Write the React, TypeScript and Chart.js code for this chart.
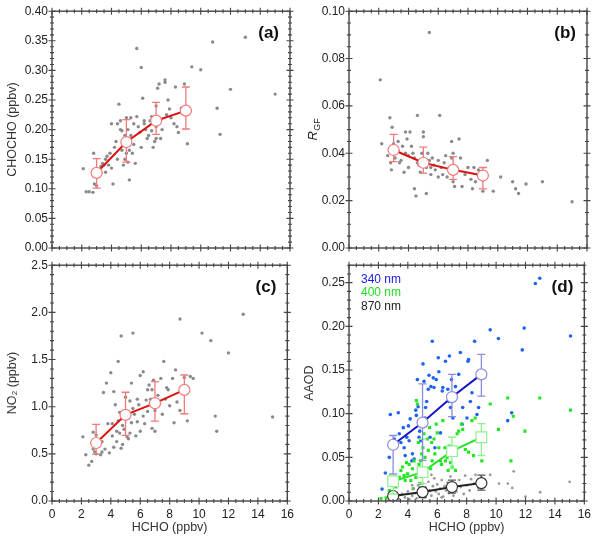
import React, { useEffect, useRef } from 'react';
import { Chart, registerables } from 'chart.js';

Chart.register(...registerables);

const FONT = "'Liberation Sans', Arial, sans-serif";

type Pt = [number, number];

// HCHO bin centres for the averaged points
const binHcho = [3, 5, 7, 9];

// (a) CHOCHO vs HCHO
const chochoPts: Pt[] = [
  [2.1, 0.134], [2.3, 0.095], [2.5, 0.095], [2.75, 0.094], [2.75, 0.128], [2.8, 0.16], [2.85, 0.108],
  [3.0, 0.105], [3.1, 0.13], [3.3, 0.138], [3.3, 0.127], [3.4, 0.143], [3.5, 0.14], [3.6, 0.15],
  [3.6, 0.128], [3.7, 0.155], [3.8, 0.14], [3.9, 0.16], [4.0, 0.21], [4.0, 0.135], [4.1, 0.108],
  [4.2, 0.17], [4.3, 0.18], [4.4, 0.21], [4.4, 0.15], [4.5, 0.243], [4.6, 0.2], [4.6, 0.215],
  [4.7, 0.165], [4.7, 0.198], [4.8, 0.14], [4.9, 0.19], [4.9, 0.15], [5.0, 0.22], [5.0, 0.16],
  [5.1, 0.145], [5.1, 0.2], [5.2, 0.165], [5.2, 0.115], [5.3, 0.22], [5.3, 0.19], [5.4, 0.16],
  [5.5, 0.175], [5.5, 0.21], [5.6, 0.143], [5.7, 0.222], [5.7, 0.337], [5.8, 0.205], [5.9, 0.195],
  [6.0, 0.305], [6.0, 0.17], [6.1, 0.253], [6.2, 0.21], [6.2, 0.215], [6.3, 0.2], [6.4, 0.185],
  [6.5, 0.19], [6.6, 0.215], [6.7, 0.198], [6.7, 0.222], [6.8, 0.17], [6.9, 0.18], [7.0, 0.205],
  [7.0, 0.24], [7.0, 0.185], [7.1, 0.27], [7.2, 0.277], [7.3, 0.185], [7.3, 0.215], [7.4, 0.2],
  [7.6, 0.28], [7.6, 0.284], [7.7, 0.225], [7.8, 0.25], [7.9, 0.235], [8.0, 0.22], [8.2, 0.21],
  [8.3, 0.272], [8.4, 0.205], [8.5, 0.195], [8.7, 0.236], [8.9, 0.277], [9.1, 0.176], [9.3, 0.232],
  [9.4, 0.306], [10.0, 0.301], [10.8, 0.348], [11.1, 0.236], [11.3, 0.192], [12.0, 0.268],
  [13.0, 0.356], [15.0, 0.26],
];
const chochoMean = [0.127, 0.179, 0.215, 0.232];
const chochoLow = [0.101, 0.145, 0.192, 0.201];
const chochoHigh = [0.151, 0.217, 0.246, 0.272];

// (b) R_GF vs HCHO
const rgfPts: Pt[] = [
  [2.1, 0.071], [5.4, 0.091], [2.2, 0.044], [2.6, 0.039], [2.75, 0.055], [2.8, 0.036], [2.85, 0.033],
  [2.9, 0.051], [3.0, 0.044], [3.1, 0.038], [3.3, 0.045], [3.3, 0.041], [3.4, 0.036], [3.5, 0.037],
  [3.6, 0.043], [3.7, 0.032], [3.8, 0.049], [3.8, 0.04], [3.9, 0.046], [4.0, 0.039], [4.0, 0.034],
  [4.1, 0.049], [4.2, 0.043], [4.3, 0.04], [4.4, 0.038], [4.4, 0.025], [4.5, 0.022], [4.6, 0.056],
  [4.6, 0.036], [4.7, 0.035], [4.8, 0.032], [4.9, 0.04], [5.0, 0.049], [5.0, 0.047], [5.2, 0.023],
  [5.2, 0.034], [5.3, 0.04], [5.4, 0.037], [5.5, 0.031], [5.5, 0.034], [5.6, 0.038], [5.7, 0.035],
  [5.8, 0.033], [6.0, 0.037], [6.0, 0.03], [6.1, 0.056], [6.2, 0.034], [6.3, 0.031], [6.4, 0.036],
  [6.5, 0.039], [6.6, 0.03], [6.7, 0.033], [6.8, 0.034], [6.9, 0.038], [6.9, 0.045], [7.0, 0.04],
  [7.0, 0.028], [7.1, 0.026], [7.2, 0.032], [7.4, 0.046], [7.5, 0.038], [7.6, 0.026], [7.8, 0.031],
  [8.0, 0.034], [8.2, 0.029], [8.3, 0.025], [8.4, 0.034], [8.5, 0.028], [8.7, 0.033], [8.9, 0.029],
  [9.0, 0.024], [9.3, 0.037], [9.7, 0.024], [10.2, 0.03], [11.0, 0.028], [11.2, 0.025], [11.4, 0.023],
  [11.9, 0.027], [13.0, 0.028], [15.0, 0.0195],
];
const rgfMean = [0.0414, 0.036, 0.033, 0.0306];
const rgfLow = [0.0365, 0.0316, 0.029, 0.025];
const rgfHigh = [0.048, 0.0426, 0.0386, 0.034];

// (c) NO2 vs HCHO
const no2Pts: Pt[] = [
  [2.1, 0.68], [2.3, 0.49], [2.5, 0.38], [2.7, 0.42], [2.8, 0.55], [2.8, 0.73], [2.9, 0.52],
  [3.0, 0.7], [3.0, 0.5], [3.2, 0.62], [3.3, 0.49], [3.4, 0.52], [3.4, 0.63], [3.5, 1.15],
  [3.6, 0.55], [3.7, 1.25], [3.8, 0.82], [3.9, 0.51], [4.0, 1.36], [4.1, 0.69], [4.1, 0.82],
  [4.2, 1.16], [4.2, 0.57], [4.3, 1.02], [4.4, 0.63], [4.4, 0.74], [4.5, 1.48], [4.5, 0.85],
  [4.6, 0.72], [4.6, 0.94], [4.7, 1.75], [4.7, 0.56], [4.8, 0.8], [4.8, 0.6], [4.9, 0.76],
  [5.0, 1.1], [5.0, 0.95], [5.1, 0.68], [5.2, 0.88], [5.2, 0.66], [5.3, 1.06], [5.3, 0.72],
  [5.4, 1.25], [5.4, 0.83], [5.5, 1.78], [5.5, 0.98], [5.6, 0.92], [5.7, 0.69], [5.8, 0.84],
  [5.8, 1.08], [5.9, 1.02], [6.0, 1.33], [6.0, 0.74], [6.2, 1.37], [6.2, 0.9], [6.3, 0.82],
  [6.4, 1.07], [6.5, 0.95], [6.5, 1.18], [6.6, 1.23], [6.7, 1.08], [6.8, 1.18], [6.8, 0.77],
  [6.9, 1.28], [7.0, 0.74], [7.0, 0.96], [7.2, 1.12], [7.3, 1.03], [7.4, 1.3], [7.5, 0.92],
  [7.6, 1.48], [7.7, 1.08], [7.8, 1.2], [7.9, 1.18], [8.0, 1.01], [8.2, 1.3], [8.3, 0.83],
  [8.4, 1.39], [8.5, 1.05], [8.7, 1.93], [8.7, 0.96], [9.0, 1.31], [9.2, 0.85], [9.4, 1.32],
  [9.6, 1.3], [10.2, 1.78], [10.8, 1.7], [11.1, 0.9], [11.2, 0.74], [12.0, 1.57], [13.0, 1.98],
  [15.0, 0.89],
];
const no2Mean = [0.615, 0.914, 1.037, 1.178];
const no2Low = [0.496, 0.696, 0.847, 0.925];
const no2High = [0.812, 1.153, 1.266, 1.336];

// (d) AAOD vs HCHO at three wavelengths
const aaod340Pts: Pt[] = [
  [2.25, 0.0136], [2.47, 0.032], [2.74, 0.05], [2.81, 0.099], [3.35, 0.101], [3.08, 0.071],
  [3.42, 0.077], [3.53, 0.067], [3.69, 0.084], [3.75, 0.061], [3.82, 0.052], [3.93, 0.073],
  [4.04, 0.086], [4.09, 0.069], [4.16, 0.094], [4.27, 0.046], [4.31, 0.054], [4.43, 0.048],
  [4.54, 0.104], [4.58, 0.098], [4.65, 0.139], [4.7, 0.108], [4.76, 0.073], [4.81, 0.08],
  [4.88, 0.069], [4.99, 0.088], [5.03, 0.157], [5.1, 0.137], [5.17, 0.095], [5.21, 0.107],
  [5.28, 0.114], [5.39, 0.128], [5.44, 0.144], [5.51, 0.073], [5.57, 0.131], [5.66, 0.183],
  [5.73, 0.141], [5.78, 0.13], [5.84, 0.061], [5.93, 0.139], [6.07, 0.164], [6.11, 0.148],
  [6.22, 0.078], [6.34, 0.126], [6.38, 0.13], [6.56, 0.16], [6.72, 0.128], [6.79, 0.114],
  [6.83, 0.166], [6.9, 0.107], [6.97, 0.139], [7.06, 0.095], [7.24, 0.131], [7.46, 0.145],
  [7.57, 0.17], [7.69, 0.088], [7.73, 0.107], [8.02, 0.095], [8.09, 0.16], [8.13, 0.162],
  [8.25, 0.114], [8.36, 0.124], [8.54, 0.183], [8.7, 0.099], [8.81, 0.107], [9.6, 0.196],
  [10.16, 0.186], [10.79, 0.092], [11.06, 0.101], [11.78, 0.173], [11.91, 0.198], [12.67, 0.249],
  [12.97, 0.255], [15.06, 0.189],
];
const aaod400Pts: Pt[] = [
  [2.18, 0.0027], [2.52, 0.0038], [2.74, 0.012], [3.01, 0.0235], [3.19, 0.016], [3.42, 0.027],
  [3.53, 0.035], [3.64, 0.039], [3.75, 0.029], [3.82, 0.0235], [3.91, 0.044], [3.98, 0.031],
  [4.09, 0.042], [4.2, 0.0235], [4.31, 0.037], [4.36, 0.014], [4.43, 0.046], [4.54, 0.027],
  [4.58, 0.115], [4.65, 0.111], [4.72, 0.067], [4.76, 0.042], [4.81, 0.02], [4.88, 0.046],
  [4.94, 0.054], [5.03, 0.061], [5.1, 0.077], [5.17, 0.05], [5.21, 0.031], [5.33, 0.071],
  [5.39, 0.058], [5.48, 0.084], [5.55, 0.037], [5.62, 0.067], [5.66, 0.046], [5.78, 0.071],
  [5.84, 0.054], [5.93, 0.088], [6.0, 0.078], [6.11, 0.061], [6.22, 0.046], [6.29, 0.042],
  [6.38, 0.092], [6.52, 0.061], [6.56, 0.046], [6.67, 0.05], [6.74, 0.035], [6.83, 0.063],
  [6.9, 0.044], [7.01, 0.039], [7.12, 0.061], [7.24, 0.035], [7.35, 0.077], [7.46, 0.08],
  [7.64, 0.088], [7.73, 0.082], [7.91, 0.059], [8.13, 0.056], [8.36, 0.092], [8.47, 0.052],
  [8.58, 0.095], [9.03, 0.046], [9.6, 0.111], [10.16, 0.082], [10.79, 0.118], [11.01, 0.046],
  [11.17, 0.097], [11.96, 0.08], [12.97, 0.118], [15.06, 0.104],
];
const aaod870Pts: Pt[] = [
  [2.6, 0.0], [2.9, 0.003], [3.2, 0.006], [3.4, 0.002], [3.6, 0.008], [3.8, 0.004], [4.0, 0.011],
  [4.1, 0.002], [4.3, 0.006], [4.3, 0.018], [4.4, 0.014], [4.5, 0.009], [4.6, 0.003], [4.7, 0.018],
  [4.8, 0.007], [4.9, 0.012], [5.0, 0.02], [5.1, 0.004], [5.2, 0.015], [5.3, 0.009], [5.4, 0.022],
  [5.5, 0.012], [5.6, 0.006], [5.6, 0.03], [5.7, 0.017], [5.8, 0.026], [5.9, 0.011], [6.0, 0.019],
  [6.1, 0.008], [6.2, 0.014], [6.3, 0.024], [6.3, 0.004], [6.4, 0.005], [6.5, 0.017], [6.6, 0.012],
  [6.7, 0.021], [6.8, 0.009], [6.9, 0.028], [7.0, 0.014], [7.1, 0.006], [7.2, 0.019], [7.3, 0.011],
  [7.5, 0.024], [7.6, 0.016], [7.8, 0.008], [7.9, 0.029], [8.0, 0.018], [8.2, 0.012], [8.3, 0.025],
  [8.5, 0.02], [8.6, 0.03], [8.8, 0.015], [9.0, 0.027], [9.2, 0.022], [9.6, 0.03], [10.2, 0.02],
  [10.8, 0.02], [11.1, 0.015], [11.2, 0.034], [12.0, 0.005], [13.0, 0.01], [15.0, 0.022],
];
const aaod340Mean = [0.0644, 0.0898, 0.119, 0.145];
const aaod340Low = [0.031, 0.0466, 0.0966, 0.12];
const aaod340High = [0.075, 0.134, 0.145, 0.168];
const aaod400Mean = [0.0227, 0.033, 0.057, 0.073];
const aaod400Low = [0.008, 0.02, 0.037, 0.052];
const aaod400High = [0.03, 0.071, 0.073, 0.0886];
const aaod870Mean = [0.0057, 0.0102, 0.016, 0.0205];
const aaod870Low = [0.002, 0.004, 0.009, 0.0125];
const aaod870High = [0.009, 0.016, 0.024, 0.0296];

const wavelengthLabels = ['340 nm', '400 nm', '870 nm'];

const toXY = (pts: Pt[]) => pts.map(([x, y]) => ({ x, y }));
const binXY = (vals: number[]) => vals.map((y, i) => ({ x: binHcho[i], y }));

const scatterSet = (pts: Pt[], color: string, style = 'circle', r = 1.7) => ({
  type: 'scatter' as const,
  data: toXY(pts),
  pointStyle: style,
  pointRadius: r,
  pointBackgroundColor: color,
  pointBorderWidth: 0,
  order: 5,
});

const meanSet = (
  vals: number[], low: number[], high: number[],
  line: string, marker: string, errColor: string, style = 'circle', r = 5.5,
) => ({
  type: 'line' as const,
  data: binXY(vals),
  borderColor: line,
  borderWidth: 2,
  pointStyle: style,
  pointRadius: r,
  pointBackgroundColor: '#ffffff',
  pointBorderColor: marker,
  pointBorderWidth: 1.2,
  errLow: low,
  errHigh: high,
  errColor,
  order: 1,
});

// draws error bars just before each averaged series
const errorBars = {
  id: 'errorBars',
  beforeDatasetDraw(chart: any, args: any) {
    const ds = chart.data.datasets[args.index];
    if (!ds.errLow) return;
    const { ctx, scales } = chart;
    ctx.save();
    ctx.strokeStyle = ds.errColor;
    ctx.lineWidth = 1.3;
    ds.data.forEach((p: any, i: number) => {
      const x = scales.x.getPixelForValue(p.x);
      const y1 = scales.y.getPixelForValue(ds.errLow[i]);
      const y2 = scales.y.getPixelForValue(ds.errHigh[i]);
      ctx.beginPath();
      ctx.moveTo(x, y1); ctx.lineTo(x, y2);
      ctx.moveTo(x - 4, y1); ctx.lineTo(x + 4, y1);
      ctx.moveTo(x - 4, y2); ctx.lineTo(x + 4, y2);
      ctx.stroke();
    });
    ctx.restore();
  },
};

// box frame with major and minor ticks crossing every side, plus panel texts
const frame = {
  id: 'frame',
  afterDraw(chart: any, _args: any, opts: any) {
    const { ctx, chartArea: a, scales } = chart;
    const { x: xs, y: ys } = scales;
    ctx.save();
    ctx.strokeStyle = '#444';
    ctx.lineWidth = 1.4;
    ctx.strokeRect(a.left, a.top, a.right - a.left, a.bottom - a.top);
    ctx.lineWidth = 1.1;
    ctx.beginPath();
    const xMinor = 0.5, xMajor = 2;
    for (let v = xs.min; v <= xs.max + 1e-9; v += xMinor) {
      const px = xs.getPixelForValue(v);
      const len = Math.abs(v / xMajor - Math.round(v / xMajor)) < 1e-6 ? 3.5 : 2;
      for (const yy of [a.top, a.bottom]) { ctx.moveTo(px, yy - len); ctx.lineTo(px, yy + len); }
    }
    const n = Math.round((ys.max - ys.min) / opts.yMinor);
    for (let k = 0; k <= n; k++) {
      const v = ys.min + k * opts.yMinor;
      const py = ys.getPixelForValue(v);
      const r = v / opts.yMajor;
      const len = Math.abs(r - Math.round(r)) < 1e-6 ? 3.5 : 2;
      for (const xx of [a.left, a.right]) { ctx.moveTo(xx - len, py); ctx.lineTo(xx + len, py); }
    }
    ctx.stroke();

    ctx.fillStyle = '#111';
    ctx.font = `bold 17px ${FONT}`;
    ctx.textAlign = 'right';
    ctx.textBaseline = 'middle';
    ctx.fillText(opts.label, a.right - 11, a.top + 22);

    if (opts.legend) {
      ctx.font = `12px ${FONT}`;
      ctx.textAlign = 'left';
      opts.legend.forEach((t: string, i: number) => {
        ctx.fillStyle = opts.legendColors[i];
        ctx.fillText(t, a.left + 12, a.top + 14 + i * 13.5);
      });
    }

    if (opts.rgfTitle) {
      const cy = (a.top + a.bottom) / 2;
      ctx.translate(16, cy);
      ctx.rotate(-Math.PI / 2);
      ctx.fillStyle = '#222';
      ctx.textAlign = 'left';
      ctx.textBaseline = 'alphabetic';
      ctx.font = `italic 13px ${FONT}`;
      const wR = ctx.measureText('R').width;
      ctx.font = `9px ${FONT}`;
      const wS = ctx.measureText('GF').width;
      const x0 = -(wR + wS) / 2;
      ctx.font = `italic 13px ${FONT}`;
      ctx.fillText('R', x0, 4);
      ctx.font = `9px ${FONT}`;
      ctx.fillText('GF', x0 + wR + 0.5, 7);
    }
    ctx.restore();
  },
};

interface PanelProps {
  left: number;
  top: number;
  height: number;
  datasets: any[];
  yMax: number;
  yStep: number;
  yMinor: number;
  yDigits: number;
  yTitle?: string;
  showX: boolean;
  label: string;
  padTop: number;
  legend?: string[];
  legendColors?: string[];
  rgfTitle?: boolean;
}

const Panel: React.FC<PanelProps> = (p) => {
  const canvasRef = useRef<HTMLCanvasElement | null>(null);

  useEffect(() => {
    if (!canvasRef.current) return;
    const ctx = canvasRef.current.getContext('2d');
    if (!ctx) return;
    const tickFont = { family: FONT, size: 12 };
    // plot area is 238 px tall in every panel
    const xHeight = p.height - p.padTop - 238 + (p.showX ? 1 : 0);

    const chart = new Chart(ctx, {
      type: 'scatter',
      data: { datasets: p.datasets },
      options: {
        animation: false,
        responsive: false,
        layout: { padding: { top: p.padTop, right: 10, left: 0, bottom: 0 } },
        plugins: {
          legend: { display: false },
          tooltip: { enabled: false },
          frame: {
            label: p.label, yMinor: p.yMinor, yMajor: p.yStep,
            legend: p.legend, legendColors: p.legendColors, rgfTitle: p.rgfTitle,
          },
        } as any,
        scales: {
          x: {
            type: 'linear',
            min: 0,
            max: 16,
            grid: { display: false, drawTicks: false },
            border: { display: false },
            ticks: { display: p.showX, stepSize: 2, padding: 6, color: '#222', font: tickFont },
            title: {
              display: p.showX,
              text: 'HCHO (ppbv)',
              color: '#333',
              font: { family: FONT, size: 12.5 },
              padding: { top: 0, bottom: 5 },
            },
            afterFit: (s: any) => { s.height = xHeight; },
          },
          y: {
            type: 'linear',
            min: 0,
            max: p.yMax,
            grid: { display: false, drawTicks: false },
            border: { display: false },
            ticks: {
              stepSize: p.yStep,
              includeBounds: false,
              padding: 4,
              color: '#222',
              font: tickFont,
              callback: (v: any) => Number(v).toFixed(p.yDigits),
            },
            title: {
              display: !!p.yTitle,
              text: p.yTitle || '',
              color: '#333',
              font: { family: FONT, size: 12.5 },
              padding: { top: 5, bottom: 0 },
            },
            afterFit: (s: any) => { s.width = 52; },
          },
        },
      } as any,
      plugins: [errorBars, frame],
    });

    return () => {
      chart.destroy();
    };
  }, [p]);

  return (
    <canvas
      ref={canvasRef}
      width={300}
      height={p.height}
      style={{ position: 'absolute', left: p.left, top: p.top, width: 300, height: p.height }}
    />
  );
};

const GRAY = '#8a8a8a';
const RED_LINE = '#e01010';
const RED_LIGHT = '#f27a7a';

const panels: PanelProps[] = [
  {
    left: 0, top: 0, height: 260, padTop: 10, showX: false, label: '(a)',
    yMax: 0.4, yStep: 0.05, yMinor: 0.01, yDigits: 2, yTitle: 'CHOCHO (ppbv)',
    datasets: [
      meanSet(chochoMean, chochoLow, chochoHigh, RED_LINE, RED_LIGHT, RED_LIGHT),
      scatterSet(chochoPts, GRAY),
    ],
  },
  {
    left: 297, top: 0, height: 260, padTop: 10, showX: false, label: '(b)',
    yMax: 0.1, yStep: 0.02, yMinor: 0.005, yDigits: 2, rgfTitle: true,
    datasets: [
      meanSet(rgfMean, rgfLow, rgfHigh, RED_LINE, RED_LIGHT, RED_LIGHT),
      scatterSet(rgfPts, GRAY),
    ],
  },
  {
    left: 0, top: 254, height: 286, padTop: 10, showX: true, label: '(c)',
    yMax: 2.5, yStep: 0.5, yMinor: 0.1, yDigits: 1, yTitle: 'NO\u2082 (ppbv)',
    datasets: [
      meanSet(no2Mean, no2Low, no2High, RED_LINE, RED_LIGHT, RED_LIGHT),
      scatterSet(no2Pts, GRAY),
    ],
  },
  {
    left: 297, top: 254, height: 286, padTop: 10, showX: true, label: '(d)',
    yMax: 0.27, yStep: 0.05, yMinor: 0.01, yDigits: 2, yTitle: 'AAOD',
    legend: wavelengthLabels, legendColors: ['#1a1ae6', '#22e022', '#222222'],
    datasets: [
      meanSet(aaod340Mean, aaod340Low, aaod340High, '#1515c8', '#8c8ce0', '#8c8ce0'),
      meanSet(aaod400Mean, aaod400Low, aaod400High, '#30e030', '#8ef08e', '#8ef08e', 'rect', 7.5),
      meanSet(aaod870Mean, aaod870Low, aaod870High, '#222222', '#333333', '#555555'),
      scatterSet(aaod870Pts, '#9a9a9a', 'circle', 1.4),
      scatterSet(aaod400Pts, '#22e622', 'rect', 2.2),
      scatterSet(aaod340Pts, '#1f63f2', 'circle', 1.8),
    ],
  },
];

export default function App() {
  return (
    <div style={{ position: 'absolute', left: 0, top: 0, width: 600, height: 540, background: '#fff' }}>
      {panels.map((p, i) => <Panel key={i} {...p} />)}
    </div>
  );
}
